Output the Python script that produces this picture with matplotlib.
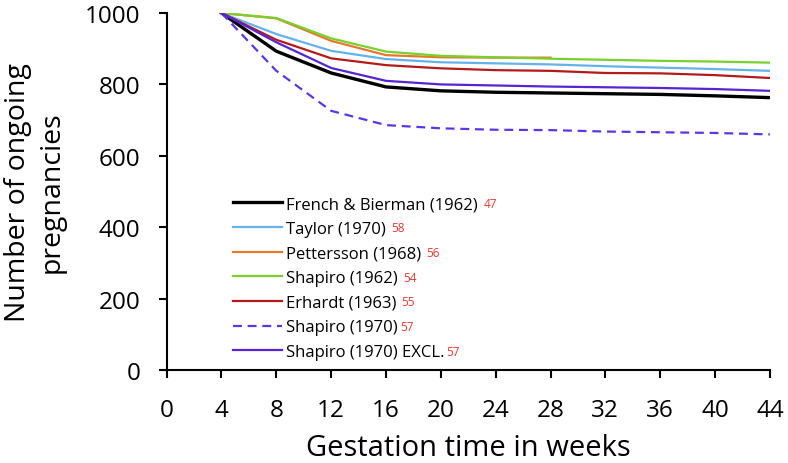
import numpy as np
import matplotlib
matplotlib.use("Agg")
import matplotlib.pyplot as plt

plt.rcParams['font.family'] = ['Open Sans', 'DejaVu Sans']

# weeks of gestation
weeks = [4, 8, 12, 16, 20, 24, 28, 32, 36, 40, 44]
weeks_pet = [4, 8, 12, 16, 20, 24, 28]

french = [1000, 893, 832, 793, 782, 778, 776, 774, 772, 768, 763]
taylor = [1000, 941, 894, 871, 862, 859, 856, 851, 847, 843, 838]
pettersson = [1000, 985, 922, 882, 876, 875, 875]
shapiro62 = [1000, 986, 929, 892, 880, 876, 872, 869, 866, 864, 861]
erhardt = [1000, 925, 873, 854, 845, 840, 838, 832, 831, 826, 818]
shapiro70 = [1000, 838, 726, 686, 677, 673, 672, 668, 666, 664, 660]
shapiro70_excl = [1000, 918, 846, 810, 800, 797, 794, 792, 790, 787, 782]

labels = ["French & Bierman (1962)", "Taylor (1970)", "Pettersson (1968)",
          "Shapiro (1962)", "Erhardt (1963)", "Shapiro (1970)",
          "Shapiro (1970) EXCL."]
refs = ["47", "58", "56", "54", "55", "57", "57"]
ref_gap = [6, 5, 5, 5, 4, 2, 1]  # px between label and its reference number

xticks = list(range(0, 45, 4))
yticks = [0, 200, 400, 600, 800, 1000]

fig = plt.figure(figsize=(7.88, 4.64), dpi=100)
ax = fig.add_axes([0.2115, 0.2004, 0.7655, 0.7694])

ax.plot(weeks, french, color='black', lw=2.4, label=labels[0])
ax.plot(weeks, taylor, color='#63b3ea', lw=1.6, label=labels[1])
ax.plot(weeks_pet, pettersson, color='#e8772e', lw=1.6, label=labels[2])
ax.plot(weeks, shapiro62, color='#78d12c', lw=1.6, label=labels[3])
ax.plot(weeks, erhardt, color='#b41a1a', lw=1.6, label=labels[4])
ax.plot(weeks, shapiro70, color='#5a37e6', lw=1.6, ls=(0, (4, 2.6)), label=labels[5])
ax.plot(weeks, shapiro70_excl, color='#5624d2', lw=1.6, label=labels[6])

ax.set_xlim(0, 44)
ax.set_ylim(0, 1000)
ax.set_xticks(xticks)
ax.set_yticks(yticks)
ax.spines['top'].set_visible(False)
ax.spines['right'].set_visible(False)
for s in ['left', 'bottom']:
    ax.spines[s].set_linewidth(1.5)
ax.tick_params(axis='both', direction='out', length=6, width=1.5, labelsize=17.5)
ax.tick_params(axis='x', pad=14)
ax.tick_params(axis='y', pad=13)

ax.set_xlabel("Gestation time in weeks", fontsize=21, labelpad=8)
ax.set_ylabel("Number of ongoing\npregnancies", fontsize=20.5, labelpad=14,
              linespacing=1.25)

leg = ax.legend(loc='upper left', bbox_to_anchor=(0.11, 0.487), frameon=False,
                fontsize=12, handlelength=2.95, handletextpad=0.25,
                labelspacing=0.52, borderaxespad=0, borderpad=0)

# red reference numbers next to the legend labels
fig.canvas.draw()
inv = fig.transFigure.inverted()
for txt, r, g in zip(leg.get_texts(), refs, ref_gap):
    bb = txt.get_window_extent()
    x0, y0 = inv.transform((bb.x1 + g, (bb.y0 + bb.y1) / 2 + 1))
    fig.text(x0, y0, r, color='#e23a32', fontsize=8.5, va='center', ha='left')

fig.savefig("out.png", dpi=100)
